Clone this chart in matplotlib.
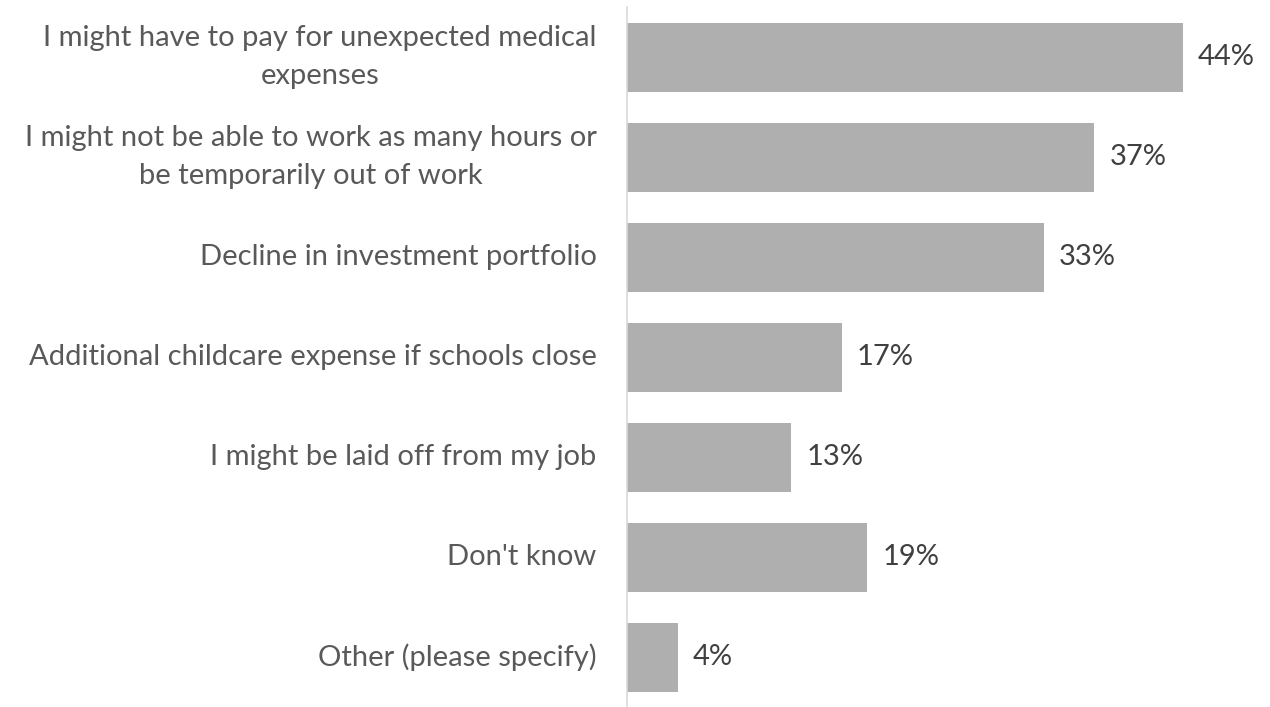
import matplotlib
matplotlib.use("Agg")
import matplotlib.pyplot as plt

plt.rcParams['font.family'] = ['Lato', 'DejaVu Sans']

categories = [
    "I might have to pay for unexpected medical\nexpenses",
    "I might not be able to work as many hours or\nbe temporarily out of work",
    "Decline in investment portfolio",
    "Additional childcare expense if schools close",
    "I might be laid off from my job",
    "Don't know",
    "Other (please specify)",
]
values = [44, 37, 33, 17, 13, 19, 4]

fig = plt.figure(figsize=(12.7, 7.07), dpi=100)
ax = fig.add_axes([627 / 1270, 0.0, 1 - 627 / 1270, 1 - 7 / 707])

ypos = list(range(len(categories)))
ax.barh(ypos, values, height=0.69, color='#AFAFAF')
ax.set_ylim(len(categories) - 0.5, -0.5)
ax.set_xlim(0, 50.9)

for y, v in zip(ypos, values):
    ax.text(v + 1.2, y, f"{v}%", va='center', ha='left', fontsize=21, color='#404040')

ax.set_yticks(ypos)
ax.set_yticklabels(categories, fontsize=21, color='#595959', ha='right', va='center',
                   multialignment='center', linespacing=1.55)
ax.tick_params(axis='y', length=0, pad=22)
ax.set_xticks([])

for s in ['top', 'right', 'bottom']:
    ax.spines[s].set_visible(False)
ax.spines['left'].set_color('#D9D9D9')
ax.spines['left'].set_linewidth(1.2)

fig.savefig('out.png', dpi=100)
